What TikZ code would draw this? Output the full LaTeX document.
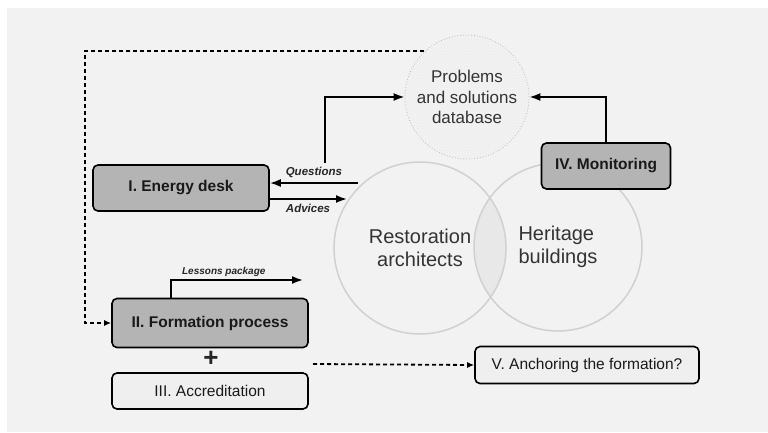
\documentclass[tikz,border=0pt]{standalone}
\usepackage{fontspec}
\setmainfont{Liberation Sans}
\usetikzlibrary{patterns,arrows.meta}

\definecolor{fondo}{HTML}{F2F2F2}
\definecolor{cajagris}{HTML}{B4B4B4}
\definecolor{cajaclara}{HTML}{EFEFEF}
\definecolor{borde}{HTML}{D0D0D0}
\definecolor{cruce}{HTML}{E8E8E8}

\begin{document}
\begin{tikzpicture}[x=1pt,y=-1pt, % 1 unidad = 1 pixel
        caja/.style={draw=black, line width=1.6pt, rounded corners=5pt, fill=cajagris,
                     text=black!90, font=\fontsize{15.5}{18}\selectfont\bfseries},
        clara/.style={caja, fill=cajaclara, font=\fontsize{15.5}{18}\selectfont},
        flecha/.style={line width=1.8pt, -{Latex[length=11pt,width=8pt]}},
        punteada/.style={line width=1.8pt, dash pattern=on 4pt off 3pt, -{Latex[length=7pt,width=6pt]}},
        etiqueta/.style={text=black!85, font=\fontsize{11.5}{13}\selectfont\bfseries\itshape}]

        % Fondo
        \useasboundingbox (0,0) rectangle (768,432);
        \fill[fondo] (7,8) rectangle (768,432);

        % Base de datos
        \node[circle, minimum size=124pt, draw=gray!55, dotted, line width=0.8pt,
              pattern=north east lines, pattern color=gray!18] (db) at (467,97) {};
        \node[align=center, text=black!80, font=\fontsize{17}{20.5}\selectfont] at (db) {Problems\\and solutions\\database};

        % Circulos (zona comun)
        \begin{scope}
            \clip (420,248) circle (86);
            \fill[cruce] (558,247) circle (84);
        \end{scope}
        \node[circle, minimum size=172pt, draw=borde, line width=1.5pt, align=center,
              text=black!80, font=\fontsize{20}{23}\selectfont] (rest) at (420,248) {Restoration\\architects};
        \node[circle, minimum size=168pt, draw=borde, line width=1.5pt, align=left,
              text=black!80, font=\fontsize{20}{23}\selectfont] (herit) at (558,247) {Heritage\\buildings};

        % Cajas
        \node[caja, minimum width=176pt, minimum height=46pt] (desk) at (181,188) {I. Energy desk};
        \node[caja, minimum width=196pt, minimum height=49pt] (form) at (210,323) {II. Formation process};
        \node[clara, minimum width=196pt, minimum height=36pt] (accr) at (210,391) {III. Accreditation};
        \node[caja, minimum width=129pt, minimum height=46pt] (mon) at (606,166) {IV. Monitoring};
        \node[clara, minimum width=224pt, minimum height=37pt] (anc) at (587,365) {V. Anchoring the formation?};
        \node[text=black!85, font=\fontsize{26}{26}\selectfont\bfseries] (mas) at (211,359) {+};

        % Puntos auxiliares
        \coordinate (qs) at (358,183);
        \coordinate (as) at (347,199);
        \coordinate (qv) at (325,163);
        \coordinate (lv) at (171,280);
        \coordinate (lp) at (303,280);
        \coordinate (dl) at (85,200);
        \coordinate (ad) at (313,364);

        % Preguntas y respuestas
        \draw[flecha] (qs) -- (qs -| desk.east) node[midway, above=1pt, etiqueta] {Questions};
        \draw[flecha] (as |- 0,199) ++(-78,0) -- (as) node[midway, below=1pt, etiqueta] {Advices};
        \draw[flecha] (qv) |- (db.west);
        \draw[flecha] (mon.north) |- (db.east);

        % Paquete de lecciones
        \draw[flecha] (form.north -| lv) |- (lp) node[pos=0.7, above=-1pt, etiqueta, font=\fontsize{10}{12}\selectfont\bfseries\itshape] {Lessons package};

        % Lineas punteadas
        \draw[punteada] (db.133) -| (dl) |- (form.west);
        \draw[punteada] (ad) -- (anc.west);

    \end{tikzpicture}
\end{document}
